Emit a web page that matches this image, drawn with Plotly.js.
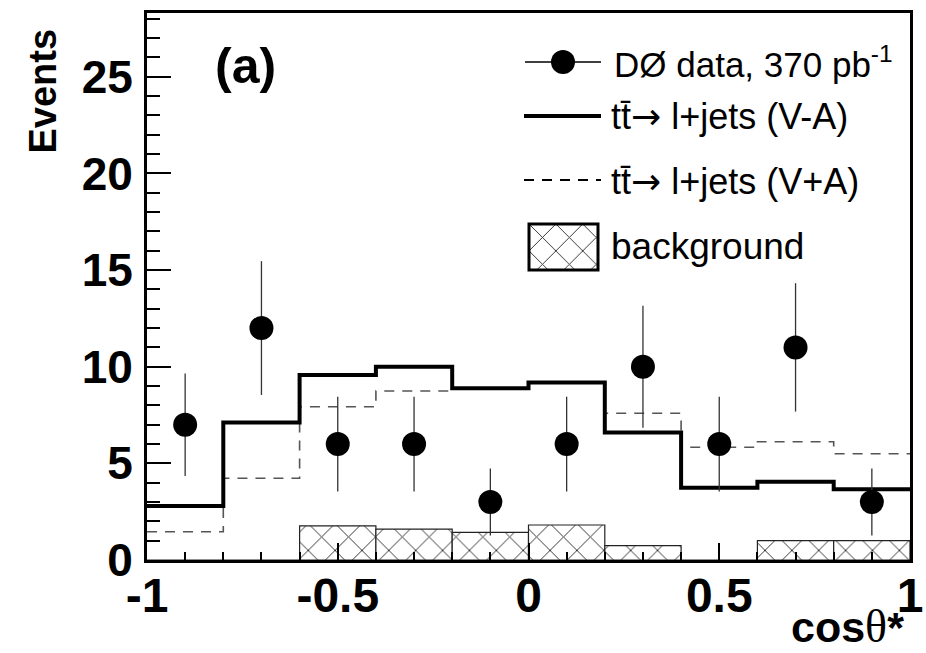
<!DOCTYPE html>
<html>
<head>
<meta charset="utf-8">
<script src="https://cdn.plot.ly/plotly-3.0.1.min.js"></script>
<style>html,body{margin:0;padding:0;background:#fff;}</style>
</head>
<body>
<div id="chart" style="width:926px;height:653px;"></div>
<script>
// ---- data ----
const binEdges = [-1.0, -0.8, -0.6, -0.4, -0.2, 0.0, 0.2, 0.4, 0.6, 0.8, 1.0];
const binCenters = [-0.9, -0.7, -0.5, -0.3, -0.1, 0.1, 0.3, 0.5, 0.7, 0.9];
const dataCounts = [7, 12, 6, 6, 3, 6, 10, 6, 11, 3];
const dataErrors = [2.65, 3.46, 2.45, 2.45, 1.73, 2.45, 3.16, 2.45, 3.32, 1.73];
const vMinusA = [2.79, 7.12, 9.57, 10.0, 8.88, 9.18, 6.59, 3.74, 4.05, 3.66];
const vPlusA = [1.46, 4.23, 7.93, 8.74, 8.85, 9.15, 7.59, 5.83, 6.12, 5.50];
const background = [0, 0, 1.77, 1.60, 1.43, 1.81, 0.74, 0, 1.00, 1.00];
const binWidths = [0.2, 0.2, 0.2, 0.2, 0.2, 0.2, 0.2, 0.2, 0.2, 0.2];
const xTickVals = [-1, -0.5, 0, 0.5, 1];
const xTickText = ['-1', '-0.5', '0', '0.5', '1'];
const yTickVals = [0, 5, 10, 15, 20, 25];
const yTickText = ['0', '5', '10', '15', '20', '25'];
const ARROW = '<span style="font-family:DejaVu Sans, sans-serif">\u2192</span>';
const legendData = 'DØ data, 370 pb<sup>-1</sup>';
const legendVA = 'tt\u0304' + ARROW + ' l+jets (V-A)';
const legendVP = 'tt\u0304' + ARROW + ' l+jets (V+A)';
const legendBkg = 'background';

// step helper (repeat last value so last bin is drawn to the edge)
const stepY = arr => arr.concat([arr[arr.length - 1]]);

const FONT = 'Liberation Sans, Arial, Helvetica, sans-serif';
const hatch = {shape: 'x', fgcolor: '#333', bgcolor: 'white', size: 19, solidity: 0.1};

// pixel -> paper helpers for layout decorations
const L = 147, R = 910, T = 13, B = 560;
const px = x => (x - L) / (R - L);
const py = y => 1 - (y - T) / (B - T);

const traces = [
  {
    type: 'bar', x: binCenters, y: background, width: binWidths,
    marker: {color: 'white', pattern: hatch, line: {color: '#222', width: 1.2}},
    hoverinfo: 'skip', showlegend: false
  },
  {
    type: 'scatter', mode: 'lines', x: binEdges, y: stepY(vPlusA),
    line: {shape: 'hv', color: '#555', width: 1.6, dash: '10px,8px'},
    showlegend: false
  },
  {
    type: 'scatter', mode: 'lines', x: binEdges, y: stepY(vMinusA),
    line: {shape: 'hv', color: '#000', width: 4},
    showlegend: false
  },
  {
    type: 'scatter', mode: 'markers', x: binCenters, y: dataCounts,
    marker: {color: '#000', size: 24},
    error_y: {type: 'data', array: dataErrors, visible: true, width: 0, thickness: 1.3, color: '#333'},
    showlegend: false
  },
  // legend hatched box (overlay axes)
  {
    type: 'bar', x: [0.5], y: [1], width: [1], xaxis: 'x2', yaxis: 'y2',
    marker: {color: 'white', pattern: hatch, line: {width: 0}},
    hoverinfo: 'skip', showlegend: false
  }
];

const layout = {
  width: 926, height: 653,
  margin: {l: L, r: 926 - R, t: T, b: 653 - B},
  paper_bgcolor: 'white', plot_bgcolor: 'white',
  showlegend: false,
  bargap: 0,
  font: {family: FONT, color: '#000'},
  xaxis: {
    range: [-1, 1], showgrid: false, zeroline: false,
    showline: true, linewidth: 3, linecolor: '#000', mirror: true,
    ticks: 'inside', ticklen: 17, tickwidth: 2, tickcolor: '#000',
    tickvals: xTickVals, ticktext: xTickText,
    tickfont: {family: FONT, size: 48, weight: 'bold', color: '#000'},
    ticklabelstandoff: -9,
    minor: {ticks: 'inside', dtick: 0.1, ticklen: 8, tickwidth: 2, tickcolor: '#000', showgrid: false}
  },
  yaxis: {
    range: [0, 28.3], showgrid: false, zeroline: false,
    showline: true, linewidth: 3, linecolor: '#000', mirror: true,
    ticks: 'inside', ticklen: 24, tickwidth: 2, tickcolor: '#000',
    tickvals: yTickVals, ticktext: yTickText,
    tickfont: {family: FONT, size: 46, weight: 'bold', color: '#000'},
    ticklabelstandoff: 2,
    minor: {ticks: 'inside', dtick: 1, ticklen: 13, tickwidth: 2, tickcolor: '#000', showgrid: false}
  },
  xaxis2: {domain: [px(529), px(598)], anchor: 'y2', range: [0, 1], visible: false, fixedrange: true},
  yaxis2: {domain: [py(270), py(224)], anchor: 'x2', range: [0, 1], visible: false, fixedrange: true},
  shapes: [
    // legend: data marker with line
    {type: 'line', xref: 'paper', yref: 'paper', x0: px(525), x1: px(601), y0: py(62), y1: py(62), line: {color: '#000', width: 1.3}},
    {type: 'circle', xref: 'paper', yref: 'paper', xsizemode: 'pixel', ysizemode: 'pixel',
     xanchor: px(563), yanchor: py(62), x0: -12, x1: 12, y0: -12, y1: 12, fillcolor: '#000', line: {width: 0}},
    // legend: V-A solid
    {type: 'line', xref: 'paper', yref: 'paper', x0: px(524), x1: px(601), y0: py(116), y1: py(116), line: {color: '#000', width: 4}},
    // legend: V+A dashed
    {type: 'line', xref: 'paper', yref: 'paper', x0: px(524), x1: px(601), y0: py(180), y1: py(180), line: {color: '#000', width: 2, dash: '10px,8px'}},
    // legend: background box outline
    {type: 'rect', xref: 'paper', yref: 'paper', x0: px(529), x1: px(598), y0: py(270), y1: py(224), line: {color: '#000', width: 3}}
  ],
  annotations: [
    {xref: 'paper', yref: 'paper', x: px(612), y: py(62), xanchor: 'left', yanchor: 'middle', showarrow: false,
     text: legendData, font: {family: FONT, size: 35, color: '#000'}},
    {xref: 'paper', yref: 'paper', x: px(609), y: py(117), xanchor: 'left', yanchor: 'middle', showarrow: false,
     text: legendVA, font: {family: FONT, size: 36, color: '#000'}},
    {xref: 'paper', yref: 'paper', x: px(609), y: py(181), xanchor: 'left', yanchor: 'middle', showarrow: false,
     text: legendVP, font: {family: FONT, size: 36, color: '#000'}},
    {xref: 'paper', yref: 'paper', x: px(609), y: py(246), xanchor: 'left', yanchor: 'middle', showarrow: false,
     text: legendBkg, font: {family: FONT, size: 37, color: '#000'}},
    {xref: 'paper', yref: 'paper', x: px(213), y: py(66), xanchor: 'left', yanchor: 'middle', showarrow: false,
     text: '(a)', font: {family: FONT, size: 50, weight: 'bold', color: '#000'}},
    {xref: 'paper', yref: 'paper', x: px(42), y: py(27), xanchor: 'center', yanchor: 'top', showarrow: false,
     textangle: -90, text: 'Events',
     font: {family: FONT, size: 38, weight: 'bold', color: '#000'}},
    {xref: 'paper', yref: 'paper', x: px(906), y: py(626), xanchor: 'right', yanchor: 'middle', showarrow: false,
     text: 'cos<span style="font-family:Liberation Serif, DejaVu Serif, serif;font-weight:normal;font-size:46px">θ</span>*',
     font: {family: FONT, size: 43, weight: 'bold', color: '#000'}}
  ]
};

Plotly.newPlot('chart', traces, layout, {displayModeBar: false, staticPlot: true});
</script>
</body>
</html>
